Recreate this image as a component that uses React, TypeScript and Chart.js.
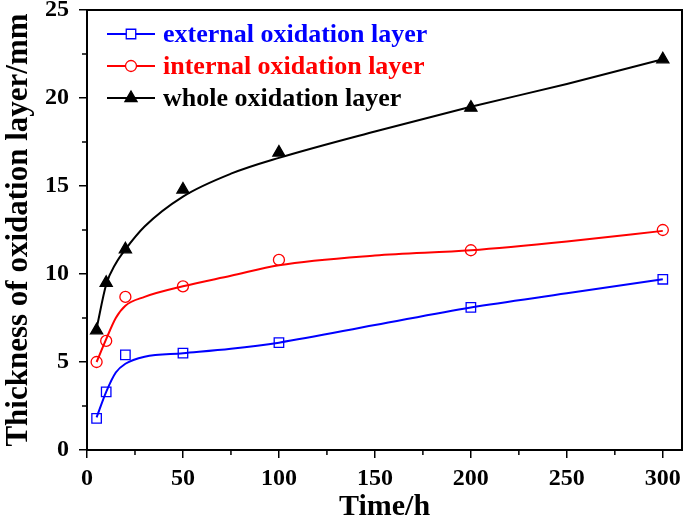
import React, { useEffect, useRef } from "react";
import { Chart, registerables } from "chart.js";
import { drawPoint } from "chart.js/helpers";

Chart.register(...registerables);

// measured points
const times = [5, 10, 20, 50, 100, 200, 300];
const externalLayer = [1.8, 3.3, 5.4, 5.5, 6.1, 8.1, 9.7];
const internalLayer = [5.0, 6.2, 8.7, 9.3, 10.8, 11.35, 12.5];
const wholeLayer = [6.8, 9.5, 11.4, 14.8, 16.9, 19.45, 22.2];

// fitted curves
const fitTimes = [5, 10, 15, 20, 30, 50, 75, 100, 150, 200, 250, 300];
const externalFit = [1.85, 3.3, 4.4, 4.9, 5.3, 5.5, 5.75, 6.1, 7.1, 8.1, 8.9, 9.7];
const internalFit = [5.0, 6.3, 7.5, 8.2, 8.7, 9.3, 9.9, 10.5, 11.05, 11.35, 11.85, 12.45];
const wholeFit = [6.9, 9.4, 10.6, 11.4, 12.7, 14.4, 15.7, 16.6, 18.1, 19.5, 20.8, 22.2];

const seriesNames = ["external oxidation layer", "internal oxidation layer", "whole oxidation layer"];
const xMajorTicks = [0, 50, 100, 150, 200, 250, 300];
const xMinorTicks = [25, 75, 125, 175, 225, 275];
const yMajorTicks = [0, 5, 10, 15, 20, 25];
const yMinorTicks = [2.5, 7.5, 12.5, 17.5, 22.5];

const FONT = "'Liberation Serif', 'Times New Roman', serif";

const framePlugin = {
  id: "frame",
  afterDraw(chart: any) {
    const { ctx, chartArea } = chart;
    const xs = chart.scales.x;
    const ys = chart.scales.y;
    ctx.save();
    ctx.strokeStyle = "#000";
    ctx.lineWidth = 2;
    ctx.strokeRect(chartArea.left, chartArea.top, chartArea.right - chartArea.left, chartArea.bottom - chartArea.top);
    ctx.lineWidth = 1.5;
    ctx.beginPath();
    xMinorTicks.forEach((v) => {
      const px = xs.getPixelForValue(v);
      ctx.moveTo(px, chartArea.bottom);
      ctx.lineTo(px, chartArea.bottom + 5);
    });
    yMinorTicks.forEach((v) => {
      const py = ys.getPixelForValue(v);
      ctx.moveTo(chartArea.left, py);
      ctx.lineTo(chartArea.left - 5, py);
    });
    ctx.stroke();

    // legend
    const rows = [34, 66, 98];
    chart.data.datasets
      .filter((ds: any) => ds.isMarker)
      .forEach((ds: any, i: number) => {
        const y = rows[i];
        ctx.strokeStyle = ds.pointBorderColor;
        ctx.lineWidth = 2;
        ctx.beginPath();
        ctx.moveTo(107, y);
        ctx.lineTo(155, y);
        ctx.stroke();
        ctx.fillStyle = ds.pointBackgroundColor;
        ctx.strokeStyle = ds.pointBorderColor;
        ctx.lineWidth = ds.pointBorderWidth;
        drawPoint(ctx, { pointStyle: ds.pointStyle, radius: ds.pointRadius, rotation: 0, borderWidth: ds.pointBorderWidth }, 131, y);
        ctx.fillStyle = ds.pointBorderColor;
        ctx.font = `bold 26px ${FONT}`;
        ctx.textAlign = "left";
        ctx.textBaseline = "middle";
        ctx.fillText(ds.label, 163, y + 1);
      });
    ctx.restore();
  },
};

export default function App() {
  const ref = useRef<HTMLCanvasElement>(null);
  useEffect(() => {
    const fit = (data: number[], color: string) => ({
      label: "",
      data: fitTimes.map((t, i) => ({ x: t, y: data[i] })),
      borderColor: color,
      borderWidth: 2,
      pointRadius: 0,
      cubicInterpolationMode: "monotone",
      fill: false,
      isMarker: false,
    });
    const mk = (label: string, data: number[], color: string, style: string, radius: number, fillC: string) => ({
      label,
      data: times.map((t, i) => ({ x: t, y: data[i] })),
      showLine: false,
      pointStyle: style,
      pointRadius: radius,
      pointBackgroundColor: fillC,
      pointBorderColor: color,
      pointBorderWidth: 1.3,
      isMarker: true,
    });
    const chart = new Chart(ref.current!, {
      type: "line",
      data: {
        datasets: [
          fit(externalFit, "#0000ff"),
          fit(internalFit, "#ff0000"),
          fit(wholeFit, "#000000"),
          mk(seriesNames[0], externalLayer, "#0000ff", "rect", 6.7, "#ffffff"),
          mk(seriesNames[1], internalLayer, "#ff0000", "circle", 5.5, "#ffffff"),
          mk(seriesNames[2], wholeLayer, "#000000", "triangle", 7, "#000000"),
        ] as any,
      },
      options: {
        animation: false,
        responsive: false,
        layout: { autoPadding: false, padding: { left: 0, top: 10, right: 3, bottom: 0 } },
        plugins: { legend: { display: false }, tooltip: { enabled: false } },
        scales: {
          x: {
            type: "linear",
            min: 0,
            max: 310,
            afterBuildTicks: (s: any) => {
              s.ticks = xMajorTicks.map((v) => ({ value: v }));
            },
            afterFit: (s: any) => {
              s.height = 75;
              s.paddingLeft = 0;
              s.paddingRight = 0;
            },
            grid: { drawOnChartArea: false, drawTicks: true, tickLength: 8, color: "#000", lineWidth: 1.5 },
            border: { display: true, color: "#000", width: 2 },
            ticks: { color: "#000", font: { family: FONT, size: 24, weight: "bold" }, padding: 6, maxRotation: 0 },
            title: {
              display: true,
              text: "Time/h",
              color: "#000",
              font: { family: FONT, size: 30, weight: "bold" },
              padding: { top: 0, bottom: 0 },
            },
          },
          y: {
            type: "linear",
            min: 0,
            max: 25,
            afterBuildTicks: (s: any) => {
              s.ticks = yMajorTicks.map((v) => ({ value: v }));
            },
            afterFit: (s: any) => {
              s.width = 87;
              s.paddingTop = 0;
              s.paddingBottom = 0;
            },
            grid: { drawOnChartArea: false, drawTicks: true, tickLength: 8, color: "#000", lineWidth: 1.5 },
            border: { display: true, color: "#000", width: 2 },
            ticks: { color: "#000", font: { family: FONT, size: 24, weight: "bold" }, padding: 10 },
            title: {
              display: true,
              text: "Thickness of oxidation layer/mm",
              color: "#000",
              font: { family: FONT, size: 31, weight: "bold" },
              padding: { top: 0, bottom: 0 },
            },
          },
        },
      },
      plugins: [framePlugin],
    });
    return () => chart.destroy();
  }, []);
  return (
    <div style={{ position: "absolute", left: 0, top: 0, width: 685, height: 525, background: "#fff" }}>
      <canvas ref={ref} width={685} height={525} style={{ width: 685, height: 525 }} />
    </div>
  );
}
